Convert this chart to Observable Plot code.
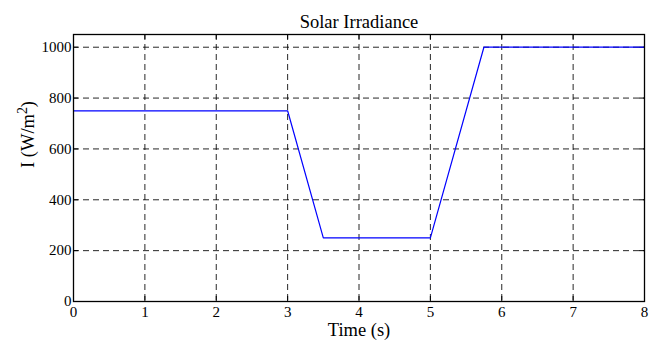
<!DOCTYPE html>
<html>
<head>
<meta charset="utf-8">
<script src="https://cdn.jsdelivr.net/npm/d3@7"></script>
<script src="https://cdn.jsdelivr.net/npm/@observablehq/plot@0.6"></script>
<style>
  html, body { margin: 0; padding: 0; background: white; }
  svg { display: block; }
  svg text { font-family: "Liberation Serif", "Times New Roman", serif !important; font-variant: normal !important; }
</style>
</head>
<body>
<div id="chart"></div>
<script>
const times = [0, 3, 3.5, 5, 5.75, 8];
const irradiance = [750, 750, 250, 250, 1000, 1000];
const xTicks = [0, 1, 2, 3, 4, 5, 6, 7, 8];
const yTicks = [0, 200, 400, 600, 800, 1000];
const title = "Solar Irradiance";
const xLabel = "Time (s)";
const yLabelBase = "I (W/m";
const yLabelSup = "2";
const yLabelEnd = ")";

const data = times.map((t, i) => ({t, v: irradiance[i]}));
const innerH = 342 - 34 - 41;
const innerW = 654 - 73 - 10;
const tick = 5;
const font = "Liberation Serif";

const chart = Plot.plot({
  width: 654,
  height: 342,
  marginLeft: 73,
  marginRight: 10,
  marginTop: 34,
  marginBottom: 41,
  x: {domain: [0, 8]},
  y: {domain: [0, 1050]},
  style: {fontFamily: font, fontSize: "15px", color: "black", background: "white"},
  marks: [
    Plot.gridX(xTicks.slice(1, -1), {stroke: "black", strokeOpacity: 0.85, strokeDasharray: "6,4"}),
    Plot.gridY(yTicks.slice(1), {stroke: "black", strokeOpacity: 0.85, strokeDasharray: "6,4"}),
    Plot.ruleX(xTicks, {x: d => d, insetTop: innerH - tick, stroke: "black"}),
    Plot.ruleX(xTicks, {x: d => d, insetBottom: innerH - tick, stroke: "black"}),
    Plot.ruleY(yTicks, {y: d => d, insetRight: innerW - tick, stroke: "black"}),
    Plot.ruleY(yTicks, {y: d => d, insetLeft: innerW - tick, stroke: "black"}),
    Plot.line(data, {x: "t", y: "v", stroke: "#0000ff", strokeWidth: 1.2}),
    Plot.frame({stroke: "black", strokeWidth: 1.3}),
    Plot.axisX(xTicks, {tickSize: 0, tickPadding: 5, fontSize: 15, fontFamily: font, tickFormat: d => String(d), label: null}),
    Plot.axisY(yTicks, {tickSize: 0, tickPadding: 2, fontSize: 15, fontFamily: font, tickFormat: d => String(d), label: null}),
    Plot.text([title], {frameAnchor: "top", lineAnchor: "bottom", dy: -7, fontSize: 18.5, fontFamily: font, fill: "black"}),
    Plot.text([xLabel], {frameAnchor: "bottom", lineAnchor: "top", dy: 21, fontSize: 18.5, fontFamily: font, fill: "black"}),
    Plot.text([yLabelBase + yLabelSup + yLabelEnd], {frameAnchor: "left", lineAnchor: "bottom", rotate: -90, dx: -40, fontSize: 18.5, fontFamily: font, fill: "black", className: "ylabel"})
  ]
});
document.getElementById("chart").appendChild(chart);

// render the exponent as a real superscript
d3.select(chart).selectAll("g.ylabel text").each(function() {
  const t = d3.select(this);
  t.text(null);
  t.append("tspan").text(yLabelBase);
  t.append("tspan").attr("dy", "-0.45em").attr("font-size", "0.75em").text(yLabelSup);
  t.append("tspan").attr("dy", "0.34em").text(yLabelEnd);
});
</script>
</body>
</html>
